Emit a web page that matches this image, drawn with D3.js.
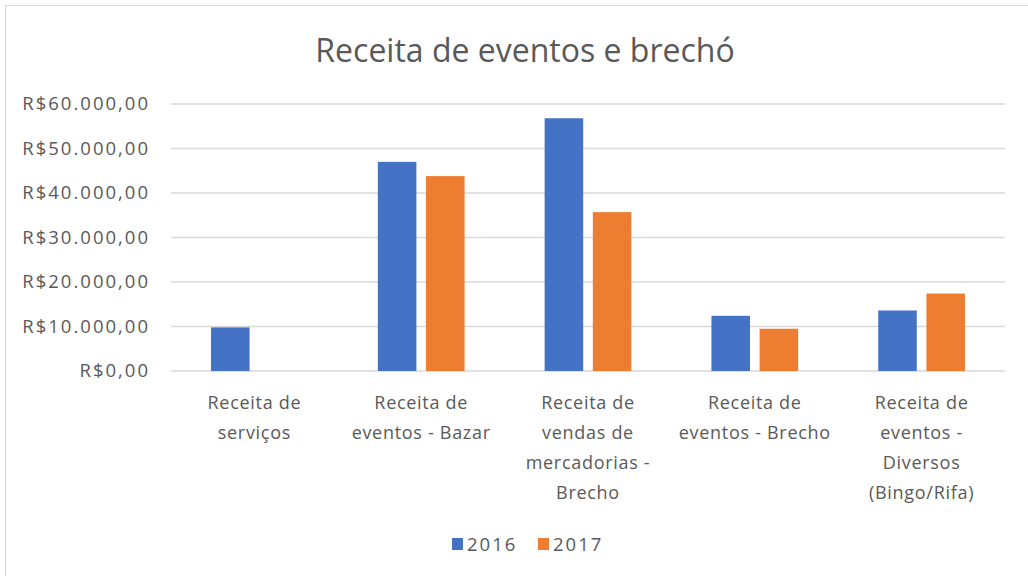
<!DOCTYPE html>
<meta charset="utf-8">
<style>
body { margin: 0; background: #fff; }
text { font-family: "Open Sans", "Noto Sans", sans-serif; fill: #595959; }
.grid line { stroke: #d9d9d9; stroke-width: 1.5; }
</style>
<svg id="chart" width="1028" height="576"></svg>
<script src="https://cdn.jsdelivr.net/npm/d3@7/dist/d3.min.js"></script>
<script>

var categories = [
  "Receita de\nserviços",
  "Receita de\neventos - Bazar",
  "Receita de\nvendas de\nmercadorias -\nBrecho",
  "Receita de\neventos - Brecho",
  "Receita de\neventos -\nDiversos\n(Bingo/Rifa)"
];
var years = ["2016", "2017"];
var values2016 = [9800, 47000, 56800, 12400, 13600];
var values2017 = [0, 43800, 35700, 9500, 17400];
var yTicks = [0, 10000, 20000, 30000, 40000, 50000, 60000];
var colors = ["#4472C4", "#ED7D31"];

var svg = d3.select("svg");

// chart frame
svg.append("rect")
    .attr("x", 5.5).attr("y", 5.5)
    .attr("width", 1040).attr("height", 600)
    .attr("fill", "none")
    .attr("stroke", "#d9d9d9")
    .attr("stroke-width", 1);

var plotLeft = 171, plotRight = 1005, plotTop = 104, plotBottom = 371;

var x0 = d3.scaleBand().domain(categories).range([plotLeft, plotRight])
    .paddingInner(0.48).paddingOuter(0.24);
var x1 = d3.scaleBand().domain(years).range([0, x0.bandwidth()]).paddingInner(0.2);
var y = d3.scaleLinear().domain([0, 60000]).range([plotBottom, plotTop]);

var fmt = function(v) {
  return "R$" + d3.format(",.2f")(v).replace(/,/g, "#").replace(".", ",").replace(/#/g, ".");
};

svg.append("text")
    .attr("x", 525).attr("y", 62)
    .attr("text-anchor", "middle")
    .style("font-size", "32px")
    .text("Receita de eventos e brechó");

// gridlines
svg.append("g").attr("class", "grid")
  .selectAll("line").data(yTicks).enter().append("line")
    .attr("x1", plotLeft).attr("x2", plotRight)
    .attr("y1", function(d) { return y(d); })
    .attr("y2", function(d) { return y(d); });

// y axis labels
svg.append("g")
  .selectAll("text").data(yTicks).enter().append("text")
    .attr("x", 150)
    .attr("y", function(d) { return y(d); })
    .attr("dy", "0.35em")
    .attr("text-anchor", "end")
    .style("font-size", "18.5px")
    .style("letter-spacing", "2px")
    .text(fmt);

var rows = categories.map(function(c, i) {
  return {cat: c, vals: [values2016[i], values2017[i]]};
});

var groups = svg.append("g").selectAll("g").data(rows).enter().append("g")
    .attr("transform", function(d) { return "translate(" + x0(d.cat) + ",0)"; });

groups.selectAll("rect")
  .data(function(d) { return d.vals.map(function(v, j) { return {year: years[j], v: v, j: j}; }); })
  .enter().append("rect")
    .attr("x", function(d) { return x1(d.year); })
    .attr("width", x1.bandwidth())
    .attr("y", function(d) { return y(d.v); })
    .attr("height", function(d) { return plotBottom - y(d.v); })
    .attr("fill", function(d) { return colors[d.j]; });

// category labels
var labels = svg.append("g").selectAll("text").data(categories).enter().append("text")
    .attr("text-anchor", "middle")
    .style("font-size", "18px")
    .style("letter-spacing", "0.7px");

labels.each(function(d) {
  var t = d3.select(this), cx = x0(d) + x0.bandwidth() / 2;
  d.split("\n").forEach(function(line, k) {
    t.append("tspan").attr("x", cx).attr("y", 409 + k * 30).text(line);
  });
});

// legend
var legend = svg.append("g");
var lx = [452, 538];
years.forEach(function(yr, j) {
  legend.append("rect")
      .attr("x", lx[j]).attr("y", 538)
      .attr("width", 11).attr("height", 12)
      .attr("fill", colors[j]);
  legend.append("text")
      .attr("x", lx[j] + 15).attr("y", 551)
      .style("font-size", "18.5px")
      .style("letter-spacing", "2px")
      .text(yr);
});

</script>
